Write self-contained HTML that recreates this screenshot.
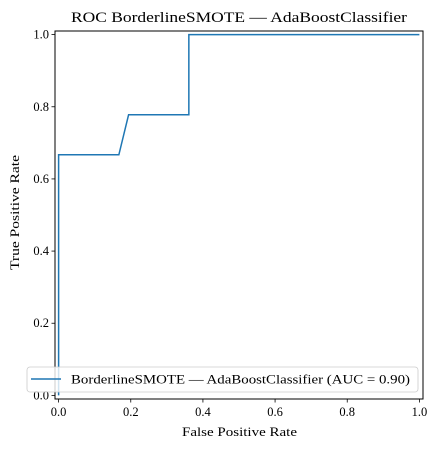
<!DOCTYPE html>
<html><head><meta charset="utf-8"><style>
body{margin:0;background:#fff}
svg text{font-family:"Liberation Serif",serif;fill:#000}
</style></head><body>
<svg id="c" width="440" height="449"></svg>
<script>
const fprValues=[0,0,0.167,0.194,0.361,0.361,1];
const tprValues=[0,0.667,0.667,0.778,0.778,1,1];
const xTicks=[0,0.2,0.4,0.6,0.8,1.0];
const yTicks=[0,0.2,0.4,0.6,0.8,1.0];
const L=55,R=423,T=31,B=399;
const xs=v=>L+(v+0.01)/1.02*(R-L);
const ys=v=>B-(v+0.01)/1.02*(B-T);
const svg=document.getElementById('c');
const NS='http://www.w3.org/2000/svg';
function mk(t,a,p){const e=document.createElementNS(NS,t);for(const k in a)e.setAttribute(k,a[k]);(p||svg).appendChild(e);return e;}
let d=fprValues.map((v,i)=>(i?'L':'M')+xs(v)+','+ys(tprValues[i])).join('');
const line=mk('path',{d:d,fill:'none',stroke:'#1f77b4','stroke-width':1.5});


const frame=mk('rect',{x:L,y:T,width:R-L,height:B-T,fill:'none',stroke:'#000','stroke-width':1});


xTicks.forEach(v=>{
  mk('line',{x1:xs(v),x2:xs(v),y1:B,y2:B+3.5,stroke:'#000','stroke-width':0.8});
  const t=mk('text',{x:xs(v),y:B+17,'text-anchor':'middle','font-size':12.5});
  t.textContent=v.toFixed(1);
  
  
});
yTicks.forEach(v=>{
  mk('line',{x1:L,x2:L-3.5,y1:ys(v),y2:ys(v),stroke:'#000','stroke-width':0.8});
  const t=mk('text',{x:L-6,y:ys(v)+4,'text-anchor':'end','font-size':12.5});
  t.textContent=v.toFixed(1);
  
  
});
const xt=mk('text',{x:182,y:436,'font-size':12.5,textLength:115,lengthAdjust:'spacingAndGlyphs'});
xt.textContent='False Positive Rate';


const yt=mk('text',{x:0,y:0,'font-size':12.5,textLength:115,lengthAdjust:'spacingAndGlyphs',transform:'translate(19,270) rotate(-90)'});
yt.textContent='True Positive Rate';


const tt=mk('text',{x:71,y:22,'font-size':15,textLength:336,lengthAdjust:'spacingAndGlyphs'});
tt.textContent='ROC BorderlineSMOTE — AdaBoostClassifier';


const lg=mk('g',{});


mk('rect',{x:27,y:367,width:391,height:25,rx:3,fill:'rgba(255,255,255,0.8)',stroke:'#ccc','stroke-width':0.8},lg);
mk('line',{x1:31,x2:61,y1:379,y2:379,stroke:'#1f77b4','stroke-width':1.5},lg);
const lt=mk('text',{x:71,y:383.5,'font-size':12.5,textLength:339,lengthAdjust:'spacingAndGlyphs'},lg);
lt.textContent='BorderlineSMOTE — AdaBoostClassifier (AUC = 0.90)';


</script>
</body></html>
